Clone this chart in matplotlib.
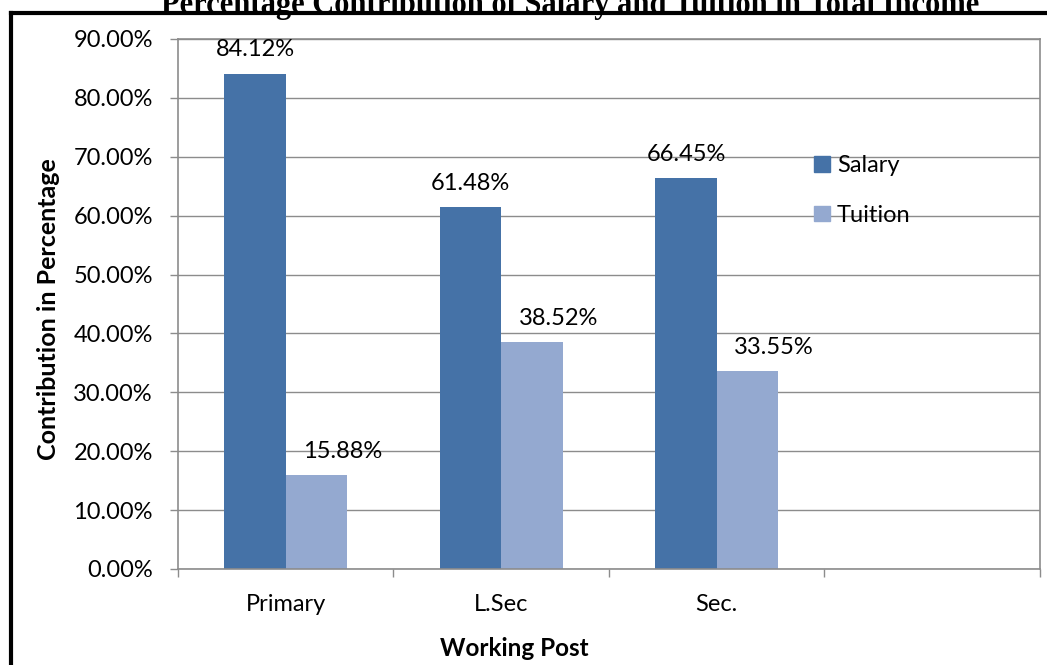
import numpy as np
import matplotlib
matplotlib.use("Agg")
import matplotlib.pyplot as plt
from matplotlib.patches import Patch
from matplotlib.lines import Line2D

# contribution of each income source, by working post (%)
posts = ["Primary", "L.Sec", "Sec.", ""]
salary = [84.12, 61.48, 66.45]
tuition = [15.88, 38.52, 33.55]

salary_color = "#4572A7"
tuition_color = "#94A9D0"
grid_color = "#8C8C8C"

plt.rcParams["font.family"] = ["Lato", "DejaVu Sans"]

fig = plt.figure(figsize=(10.47, 6.65), dpi=100)
ax = fig.add_axes([0.170, 0.1444, 0.8233, 0.797])

w = 0.2857
x = np.arange(len(salary))
b1 = ax.bar(x - w / 2, salary, width=w, color=salary_color, label="Salary")
b2 = ax.bar(x + w / 2, tuition, width=w, color=tuition_color, label="Tuition")

for rect, v in zip(b1, salary):
    ax.annotate(f"{v:.2f}%", (rect.get_x() + rect.get_width() / 2, v),
                xytext=(0, 17), textcoords="offset points",
                ha="center", va="center", fontsize=17)
for rect, v in zip(b2, tuition):
    ax.annotate(f"{v:.2f}%", (rect.get_x() + rect.get_width() / 2, v),
                xytext=(19, 17), textcoords="offset points",
                ha="center", va="center", fontsize=17)

ax.set_xlim(-0.5, len(posts) - 0.5)
ax.set_ylim(0, 90)
ax.set_yticks(np.arange(0, 91, 10))
ax.set_yticklabels([f"{t:.2f}%" for t in np.arange(0, 91, 10)])
ax.set_xticks(np.arange(len(posts)))
ax.set_xticklabels(posts)
ax.set_xticks(np.arange(len(posts) + 1) - 0.5, minor=True)

ax.tick_params(axis="y", length=6, width=1, color=grid_color, pad=12, labelsize=17)
ax.tick_params(axis="x", which="major", length=0, pad=18, labelsize=17)
ax.tick_params(axis="x", which="minor", length=6, width=1, color=grid_color)

ax.yaxis.grid(True, color=grid_color, linewidth=1)
ax.set_axisbelow(True)
for s in ax.spines.values():
    s.set_color(grid_color)
    s.set_linewidth(1.2)

ax.set_ylabel("Contribution in Percentage", fontsize=18, fontweight="bold")
ax.yaxis.set_label_coords(-0.137, 0.49)
fig.text(514 / 1047, 1 - 648 / 665, "Working Post", ha="center", va="center",
         fontsize=17.5, fontweight="bold")

ax.legend(handles=[Patch(color=salary_color, label="Salary"),
                   Patch(color=tuition_color, label="Tuition")],
          loc="upper left", bbox_to_anchor=(805 / 1047, 1 - 146 / 665),
          bbox_transform=fig.transFigure, frameon=False, fontsize=17,
          handlelength=0.65, handleheight=0.65, handletextpad=0.3,
          labelspacing=1.2, borderaxespad=0)

# outer frame: top and left edges only
fig.add_artist(Line2D([11 / 1047, 1], [1 - 13 / 665, 1 - 13 / 665],
                      color="black", linewidth=3, transform=fig.transFigure))
fig.add_artist(Line2D([11 / 1047, 11 / 1047], [0, 1 - 13 / 665],
                      color="black", linewidth=3, transform=fig.transFigure))

fig.text(570 / 1047, 1 - 13 / 665,
         "Percentage Contribution of Salary and Tuition in Total Income",
         ha="center", va="baseline", fontsize=22, fontweight="bold",
         family="Liberation Serif", zorder=5)

fig.savefig("out.png", dpi=100)
